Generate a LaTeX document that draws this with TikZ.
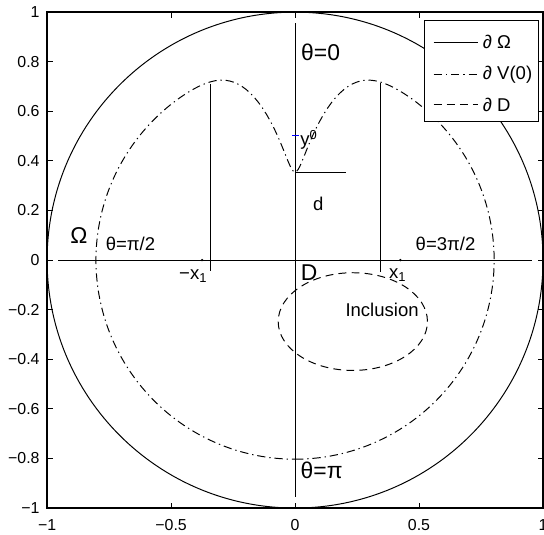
\documentclass[tikz,border=0pt]{standalone}
\usepackage{fontspec}
\setmainfont{Liberation Sans}
\usetikzlibrary{positioning, calc}

\begin{document}
\begin{tikzpicture}[x=4cm, y=4cm,
    curve/.style={line width=0.45pt},
    dashdot/.style={line width=0.45pt, dash pattern=on 3.8pt off 1.8pt on 0.6pt off 1.8pt},
    dashd/.style={line width=0.45pt, dash pattern=on 3.6pt off 2.4pt},
    ticklbl/.style={font=\fontsize{7.3}{8}\selectfont, inner sep=1pt},
    lbl/.style={font=\fontsize{8.5}{10}\selectfont, inner sep=0pt},
    biglbl/.style={font=\fontsize{10.5}{12}\selectfont, inner sep=0pt},
    declare function={rv(\s)=0.803-0.448*exp(-min((\s/12.5)*(\s/12.5),30));},
]
\useasboundingbox (-1.19,-1.105) rectangle (1.004,1.049);
% axes box and ticks
\draw[line width=0.6pt] (-1,-1) rectangle (1,1);
\foreach \x/\t [count=\i] in {-1/−1, -0.5/−0.5, 0/0, 0.5/0.5, 1/1} {
  \draw[curve] (\x,-1) -- ++(0,0.022);
  \draw[curve] (\x,1) -- ++(0,-0.022);
  \node[ticklbl, anchor=north] (xt\i) at (\x,-1.035) {\t};
}
\foreach \y/\t [count=\i] in {-1/−1, -0.8/−0.8, -0.6/−0.6, -0.4/−0.4, -0.2/−0.2,
                              0/0, 0.2/0.2, 0.4/0.4, 0.6/0.6, 0.8/0.8, 1/1} {
  \draw[curve] (-1,\y) -- ++(0.022,0);
  \draw[curve] (1,\y) -- ++(-0.022,0);
  \node[ticklbl, anchor=east] (yt\i) at (-1.02,\y) {\t};
}
% boundary of Omega, V(0) and D
\draw[curve] (0,0) circle (1);
\draw[dashdot] plot[domain=-180:180, samples=361] ({-rv(\x)*sin(\x)}, {rv(\x)*cos(\x)});
\draw[dashd] (0.233,-0.248) ellipse [x radius=0.301, y radius=0.197];
% axes of the picture
\coordinate (top) at (0,0.955);
\coordinate (bot) at (0,-0.955);
\coordinate (lft) at (-0.955,0);
\coordinate (rgt) at (0.955,0);
\draw[curve] (top) -- (bot);
\draw[curve] (lft) -- (rgt);
% peak lines, d and y^0
\coordinate (pl) at (-0.34,0.71);
\coordinate (plb) at (-0.34,-0.045);
\coordinate (pr) at (0.344,0.714);
\coordinate (prb) at (0.344,-0.048);
\draw[curve] (pl) -- (plb);
\draw[curve] (pr) -- (prb);
\coordinate (cusp) at (0,0.355);
\coordinate (dend) at (0.205,0.355);
\draw[curve] (cusp) -- (dend);
\coordinate (ya) at (-0.011,0.501);
\coordinate (yb) at (0.017,0.501);
\draw[blue, curve] (ya) -- (yb);
\coordinate (xm) at (-0.375,0);
\coordinate (xp) at (0.425,0);
\fill (xm) circle[radius=0.6pt];
\fill (xp) circle[radius=0.6pt];
% labels
\node[biglbl, anchor=west] (th0) at (0.023,0.837) {θ=0};
\node[biglbl, anchor=west] (thpi) at (0.021,-0.848) {θ=π};
\node[biglbl] (om) at (-0.872,0.098) {Ω};
\node[biglbl] (dlab) at (0.057,-0.051) {D};
\node[lbl, anchor=west] (thl) at (-0.765,0.065) {θ=π/2};
\node[lbl, anchor=east] (thr) at (0.729,0.065) {θ=3π/2};
\node[lbl] (d) at (0.094,0.228) {d};
\node[lbl, anchor=west] (y0) at (0.02,0.485) {y\textsuperscript{0}};
\node[lbl] (xml) at (-0.41,-0.065) {−x\textsubscript{1}};
\node[lbl] (xpl) at (0.415,-0.06) {x\textsubscript{1}};
\node[lbl] (inc) at (0.351,-0.2) {Inclusion};
% legend
\draw[curve, fill=white] (0.522,0.559) rectangle (0.98,0.967);
\foreach \yy/\st/\t [count=\i] in {0.879/curve/{∂ Ω}, 0.748/dashdot/{∂ V(0)}, 0.626/dashd/{∂ D}} {
  \coordinate (la\i) at (0.559,\yy);
  \coordinate (lb\i) at (0.737,\yy);
  \draw[\st] (la\i) -- (lb\i);
  \node[lbl, anchor=west] (lt\i) at (0.756,\yy) {\t};
}
\end{tikzpicture}
\end{document}
